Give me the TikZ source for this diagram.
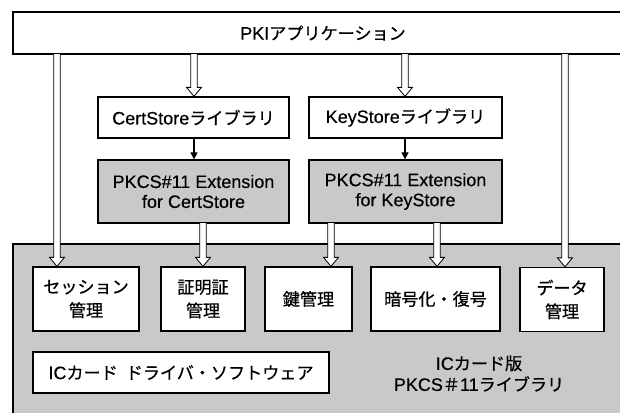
\documentclass[tikz,border=0pt]{standalone}
\usepackage{fontspec}
\setmainfont[FakeBold=0.4]{Liberation Sans}
\newfontfamily\jpfont[Scale=0.95,FakeBold=0.6]{Noto Sans CJK JP}
\usetikzlibrary{calc,arrows.meta}
\newcommand\jp[1]{{\jpfont #1}}
\begin{document}
\begin{tikzpicture}[x=1pt,y=-1pt,
  box/.style={draw, line width=1.3pt, fill=white, inner sep=0pt, align=center,
    font=\fontsize{18}{20}\selectfont},
  graybox/.style={box, fill=black!21},
  modbox/.style={box, minimum height=64pt, font=\jpfont\fontsize{18}{23.5}\selectfont},
  harrow/.style={draw, line width=0.8pt, fill=white, to path={
    let \p1=(\tikztostart), \p2=(\tikztotarget) in
    (\x1-3.3pt,\y1) -- (\x1-3.3pt,\y2+9pt) -- (\x1-7.5pt,\y2+9pt) -- (\x1,\y2)
    -- (\x1+7.5pt,\y2+9pt) -- (\x1+3.3pt,\y2+9pt) -- (\x1+3.3pt,\y1)}},
  sarrow/.style={draw, line width=1.1pt, -{Triangle[length=7pt,width=7pt]}}
]
\useasboundingbox (0,0) rectangle (620,412);
\clip (0,0) rectangle (620,412);

% outer boxes
\node[box, minimum width=620pt, minimum height=42pt] (pki) at (323,33) {};
\node[font=\fontsize{18}{20}\selectfont] (pkit) at (323,33) {PKI\jp{アプリケーション}};
\node[graybox, minimum width=620pt, minimum height=180pt] (lib) at (323,334) {};

% library boxes
\node[box, minimum width=191pt, minimum height=41pt] (csl) at (193.5,117.5) {CertStore\jp{ライブラリ}};
\node[box, minimum width=193pt, minimum height=41pt] (ksl) at (405.5,117.5) {KeyStore\jp{ライブラリ}};

% extension boxes
\node[graybox, minimum width=191pt, minimum height=63pt] (cse) at (193.5,191.5) {PKCS\#11 Extension\\for CertStore};
\node[graybox, minimum width=193pt, minimum height=63pt] (kse) at (405.5,191.5) {PKCS\#11 Extension\\for KeyStore};

% module boxes
\node[modbox, minimum width=106pt] (ses) at (86,299) {セッション\\管理};
\node[modbox, minimum width=84pt] (crt) at (203,299) {証明証\\管理};
\node[modbox, minimum width=87pt] (key) at (308.5,299) {鍵管理};
\node[modbox, minimum width=129pt] (enc) at (435.5,299) {暗号化・復号};
\node[modbox, minimum width=84pt] (dat) at (562,299.5) {データ\\管理};

\node[box, minimum width=296pt, minimum height=41pt] (drv) at (181,372.5) {IC\jp{カード\hspace{8pt}ドライバ・ソフトウェア}};
\node[align=center, inner sep=0pt, font=\fontsize{18}{21}\selectfont] (libt) at (479,373.5) {IC\jp{カード版}\\PKCS\jp{＃}11\jp{ライブラリ}};

% arrow start points
\coordinate (a1) at (57,54);
\coordinate (a2) at (194,54);
\coordinate (a3) at (405,54);
\coordinate (a4) at (565,54);
\coordinate (e1) at (203,223);
\coordinate (e2) at (331,223);
\coordinate (e3) at (437,223);

\draw[harrow] (a1) to (a1 |- ses.north);
\draw[harrow] (a2) to (a2 |- csl.north);
\draw[harrow] (a3) to (a3 |- ksl.north);
\draw[harrow] (a4) to (a4 |- dat.north);
\draw[harrow] (e1) to (e1 |- crt.north);
\draw[harrow] (e2) to (e2 |- key.north);
\draw[harrow] (e3) to (e3 |- enc.north);

\draw[sarrow] (csl.south -| a2) -- (cse.north -| a2);
\draw[sarrow] (ksl.south -| a3) -- (kse.north -| a3);
\end{tikzpicture}
\end{document}
